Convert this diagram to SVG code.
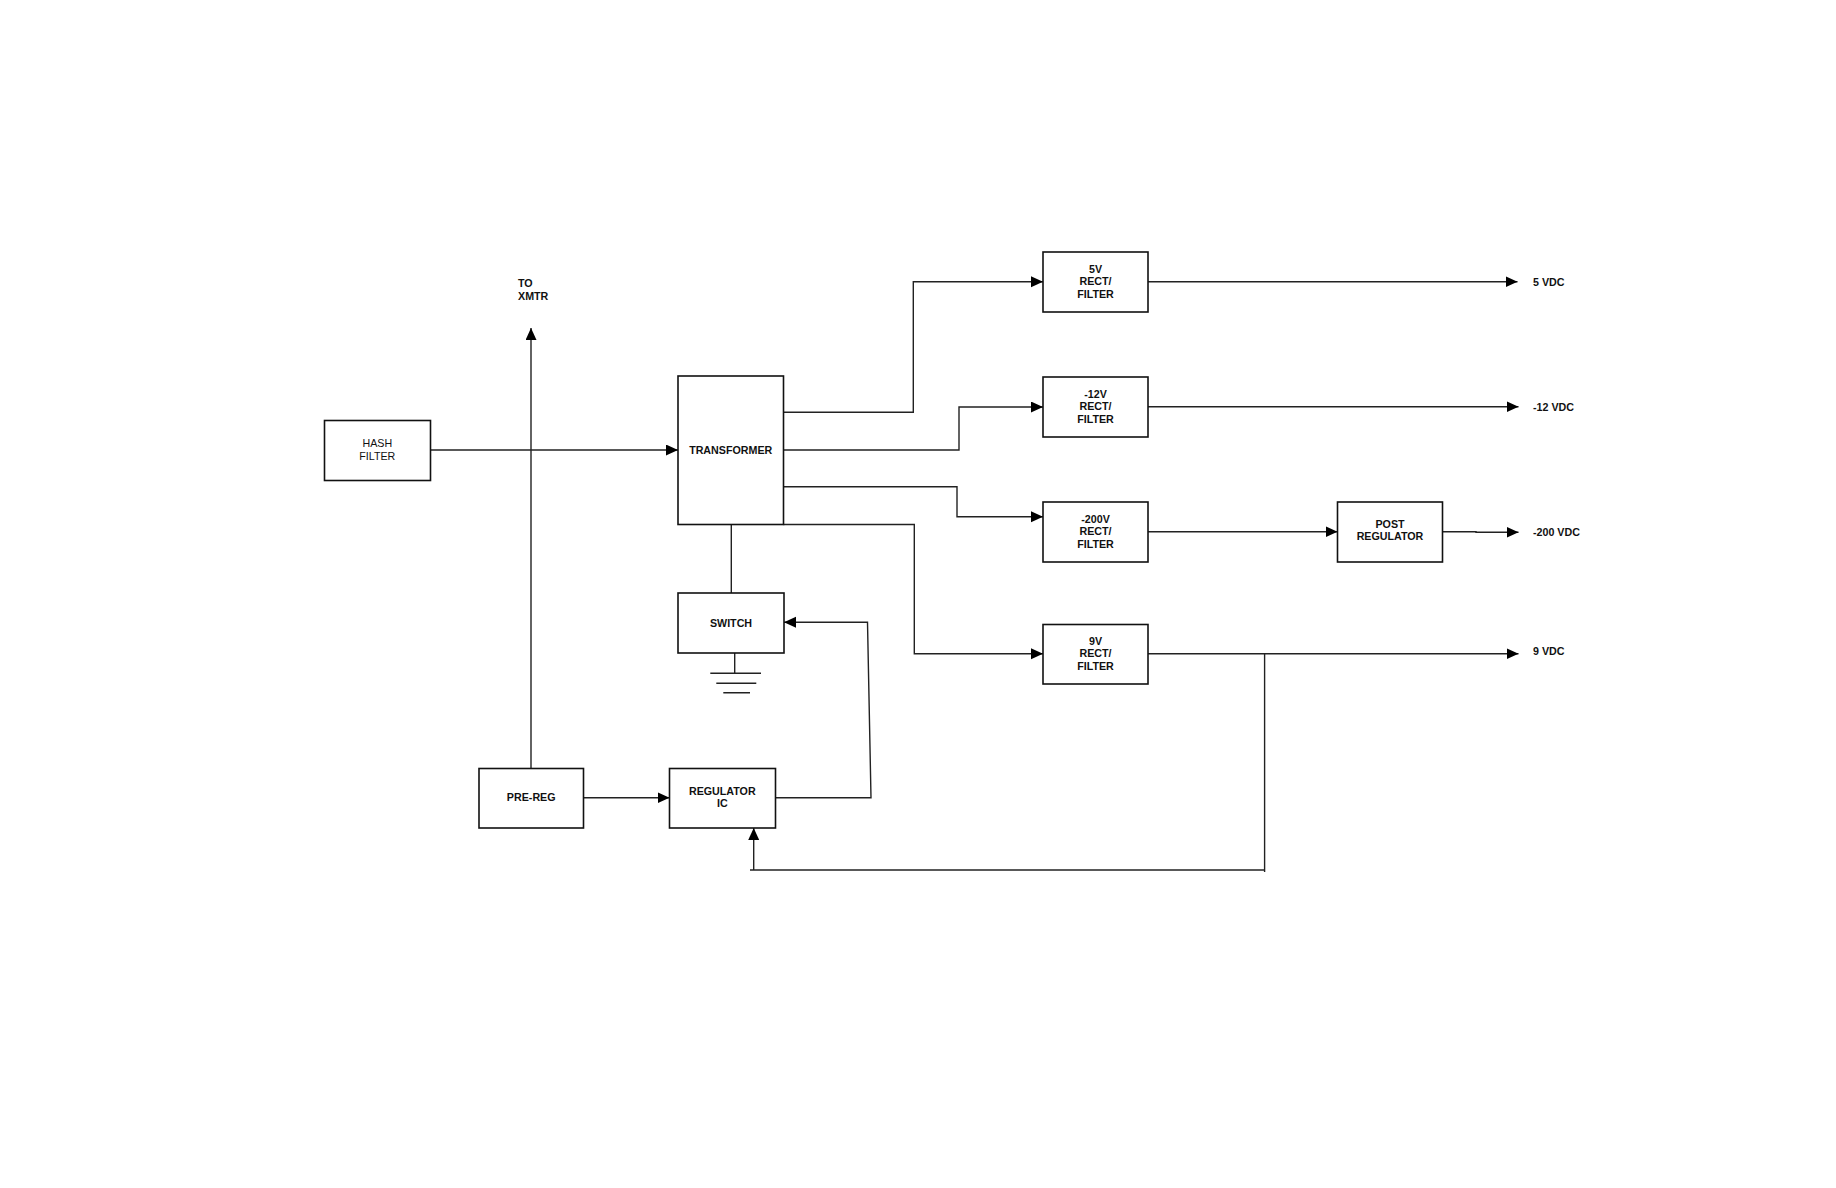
<svg xmlns="http://www.w3.org/2000/svg" width="1836" height="1188" viewBox="0 0 1836 1188">
<style>
.box{fill:#fff;stroke:#111;stroke-width:1.6}
.ln{fill:none;stroke:#222;stroke-width:1.4}
.t{font-family:"Liberation Sans",Arial,sans-serif;font-size:10.7px;font-weight:bold;fill:#111;text-anchor:middle}
.tr{font-family:"Liberation Sans",Arial,sans-serif;font-size:10.7px;fill:#111;text-anchor:middle}
.tl{font-family:"Liberation Sans",Arial,sans-serif;font-size:10.7px;font-weight:bold;fill:#111}
</style>
<defs>
<marker id="arr" markerUnits="userSpaceOnUse" markerWidth="13" markerHeight="12" refX="12" refY="5.5" orient="auto">
<path d="M0,0 L12,5.5 L0,11 z" fill="#000"/>
</marker>
</defs>
<rect width="1836" height="1188" fill="#fff"/>
<g id="connectors">
<path class="ln" d="M430.5,450 L678,450" marker-end="url(#arr)"/>
<path class="ln" d="M531,768.5 L531,328" marker-end="url(#arr)"/>
<path class="ln" d="M783.5,412.3 L913.3,412.3 L913.3,281.7 L1043,281.7" marker-end="url(#arr)"/>
<path class="ln" d="M783.5,450 L959,450 L959,407 L1043,407" marker-end="url(#arr)"/>
<path class="ln" d="M783.5,486.7 L957,486.7 L957,516.7 L1043,516.7" marker-end="url(#arr)"/>
<path class="ln" d="M783.5,524.5 L914.3,524.5 L914.3,653.7 L1043,653.7" marker-end="url(#arr)"/>
<path class="ln" d="M731.3,524.5 L731.3,593"/>
<path class="ln" d="M1148,281.7 L1517.5,281.7" marker-end="url(#arr)"/>
<path class="ln" d="M1148,406.7 L1518.5,406.7" marker-end="url(#arr)"/>
<path class="ln" d="M1148,531.7 L1337.5,531.7" marker-end="url(#arr)"/>
<path class="ln" d="M1442.5,531.7 L1476,531.7 L1476,532.3 L1518.5,532.3" marker-end="url(#arr)"/>
<path class="ln" d="M1148,653.7 L1518.5,653.7" marker-end="url(#arr)"/>
<path class="ln" d="M583.5,797.7 L669.5,797.7" marker-end="url(#arr)"/>
<path class="ln" d="M775.5,797.7 L871,797.7 L867.5,622.3 L784,622.3" marker-end="url(#arr)"/>
<path class="ln" d="M1264.6,653.7 L1264.6,872"/>
<path class="ln" d="M1264.6,870 L750,870"/>
<path class="ln" d="M753.7,870 L753.7,828" marker-end="url(#arr)"/>
<path class="ln" d="M734.7,653 L734.7,673.3 M710.3,673.3 L761,673.3 M716.3,683.3 L756.3,683.3 M723.3,692.7 L750,692.7"/>
</g>
<g id="hash-filter">
<rect class="box" x="324.5" y="420.5" width="106" height="60"/>
<text class="tr" x="377.3" y="446.5">HASH</text>
<text class="tr" x="377.3" y="459.5">FILTER</text>
</g>
<g id="to-xmtr">
<text class="tl" x="518" y="286.5">TO</text>
<text class="tl" x="518" y="299.5">XMTR</text>
</g>
<g id="transformer">
<rect class="box" x="678" y="376" width="105.5" height="148.5"/>
<text class="t" x="730.7" y="454">TRANSFORMER</text>
</g>
<g id="switch">
<rect class="box" x="678" y="593" width="106" height="60"/>
<text class="t" x="731" y="626.5">SWITCH</text>
</g>
<g id="pre-reg">
<rect class="box" x="479" y="768.5" width="104.5" height="59.5"/>
<text class="t" x="531.2" y="801">PRE-REG</text>
</g>
<g id="regulator-ic">
<rect class="box" x="669.5" y="768.5" width="106" height="59.5"/>
<text class="t" x="722.3" y="794.5">REGULATOR</text>
<text class="t" x="722.3" y="807">IC</text>
</g>
<g id="rect-5v">
<rect class="box" x="1043" y="252" width="105" height="60"/>
<text class="t" x="1095.5" y="272.5">5V</text>
<text class="t" x="1095.5" y="285">RECT/</text>
<text class="t" x="1095.5" y="297.5">FILTER</text>
</g>
<g id="rect-12v">
<rect class="box" x="1043" y="377" width="105" height="60"/>
<text class="t" x="1095.5" y="397.5">-12V</text>
<text class="t" x="1095.5" y="410">RECT/</text>
<text class="t" x="1095.5" y="422.5">FILTER</text>
</g>
<g id="rect-200v">
<rect class="box" x="1043" y="502" width="105" height="60"/>
<text class="t" x="1095.5" y="522.5">-200V</text>
<text class="t" x="1095.5" y="535">RECT/</text>
<text class="t" x="1095.5" y="547.5">FILTER</text>
</g>
<g id="rect-9v">
<rect class="box" x="1043" y="624.5" width="105" height="59.5"/>
<text class="t" x="1095.5" y="644.8">9V</text>
<text class="t" x="1095.5" y="657.3">RECT/</text>
<text class="t" x="1095.5" y="669.8">FILTER</text>
</g>
<g id="post-regulator">
<rect class="box" x="1337.5" y="502" width="105" height="60"/>
<text class="t" x="1390" y="527.5">POST</text>
<text class="t" x="1390" y="540">REGULATOR</text>
</g>
<g id="outputs">
<text class="tl" x="1533" y="285.5">5 VDC</text>
<text class="tl" x="1533" y="410.5">-12 VDC</text>
<text class="tl" x="1533" y="535.5">-200 VDC</text>
<text class="tl" x="1533" y="655">9 VDC</text>
</g>
</svg>
